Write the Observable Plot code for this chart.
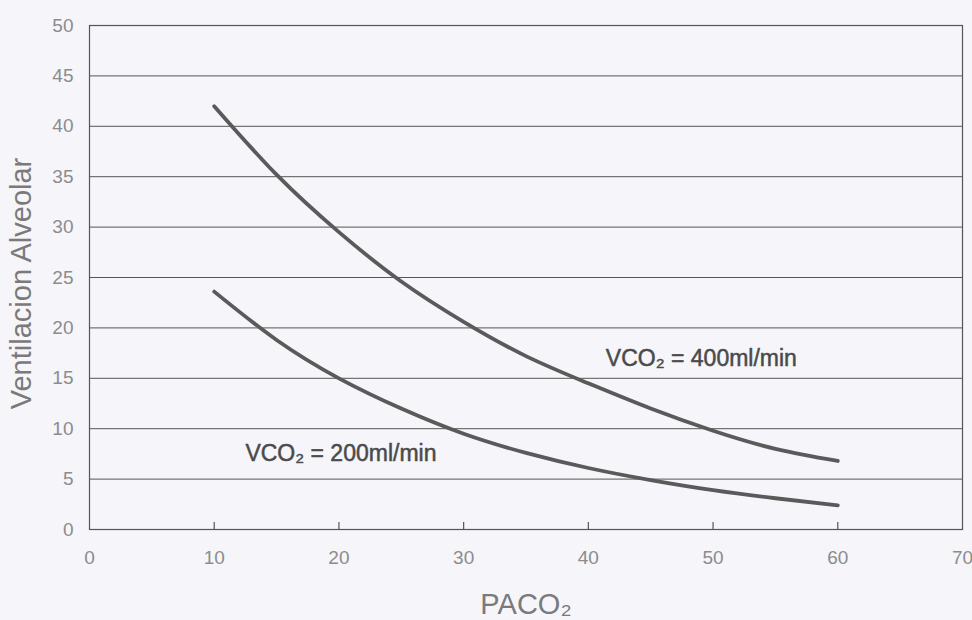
<!DOCTYPE html>
<html>
<head>
<meta charset="utf-8">
<script src="https://cdn.jsdelivr.net/npm/d3@7"></script>
<script src="https://cdn.jsdelivr.net/npm/@observablehq/plot@0.6"></script>
<style>
  html, body { margin: 0; padding: 0; background: #f6f5fa; }
  #chart svg { display: block; }
</style>
</head>
<body>
<div id="chart"></div>
<script>
// ---- data ----
const xTicks = [0, 10, 20, 30, 40, 50, 60, 70];
const yTicks = [0, 5, 10, 15, 20, 25, 30, 35, 40, 45, 50];
const innerXTicks = [10, 20, 30, 40, 50, 60];
const paco2 = [10, 15, 20, 25, 30, 35, 40, 45, 50, 55, 60];
const va400 = [42.0, 35.2, 29.5, 24.6, 20.6, 17.2, 14.5, 12.0, 9.8, 8.0, 6.8];
const va200 = [23.6, 18.8, 15.0, 12.0, 9.5, 7.6, 6.1, 4.9, 3.9, 3.1, 2.4];
const seriesNames = ["VCO₂ = 400ml/min", "VCO₂ = 200ml/min"];
const labelX = [41.4, 12.5];
const labelY = [17.0, 7.5];
const xLabel = "PACO₂";
const yLabel = "Ventilacion Alveolar";

const rows = [
  ...paco2.map((p, i) => ({x: p, y: va400[i], s: seriesNames[0]})),
  ...paco2.map((p, i) => ({x: p, y: va200[i], s: seriesNames[1]}))
];
const labels = seriesNames.map((t, i) => ({text: t, x: labelX[i], y: labelY[i]}));

const chart = Plot.plot({
  width: 972,
  height: 620,
  marginLeft: 89,
  marginRight: 10,
  marginTop: 25,
  marginBottom: 91,
  style: {background: "transparent", fontFamily: "'Liberation Sans', Arial, sans-serif"},
  x: {domain: [0, 70]},
  y: {domain: [0, 50]},
  marks: [
    Plot.gridY(yTicks, {stroke: "#555", strokeOpacity: 1, strokeWidth: 1}),
    Plot.frame({stroke: "#555", strokeWidth: 1.2}),
    Plot.ruleX(innerXTicks, {y1: 0, y2: 0, insetTop: -7, stroke: "#555", strokeWidth: 1.2}),
    Plot.axisX(xTicks, {tickSize: 0, tickPadding: 21, fontSize: 19, fill: "#8c8c8c", label: null}),
    Plot.axisY(yTicks, {tickSize: 0, tickPadding: 16, fontSize: 19, fill: "#8c8c8c", label: null}),
    Plot.line(rows, {x: "x", y: "y", z: "s", curve: "natural", stroke: "#5a5a5a", strokeWidth: 3.8}),
    Plot.text(labels, {x: "x", y: "y", text: "text", textAnchor: "start", lineAnchor: "middle", fontSize: 23, fill: "#4a4a4a", stroke: "#4a4a4a", strokeWidth: 0.5}),
    Plot.text([xLabel], {frameAnchor: "bottom", dy: 75, lineAnchor: "middle", fontSize: 29, fill: "#7a7a7a"}),
    Plot.text([yLabel], {frameAnchor: "left", dx: -68, dy: 6, rotate: -90, textAnchor: "middle", lineAnchor: "middle", fontSize: 29, fill: "#7a7a7a"})
  ]
});
document.getElementById("chart").appendChild(chart);
</script>
</body>
</html>
